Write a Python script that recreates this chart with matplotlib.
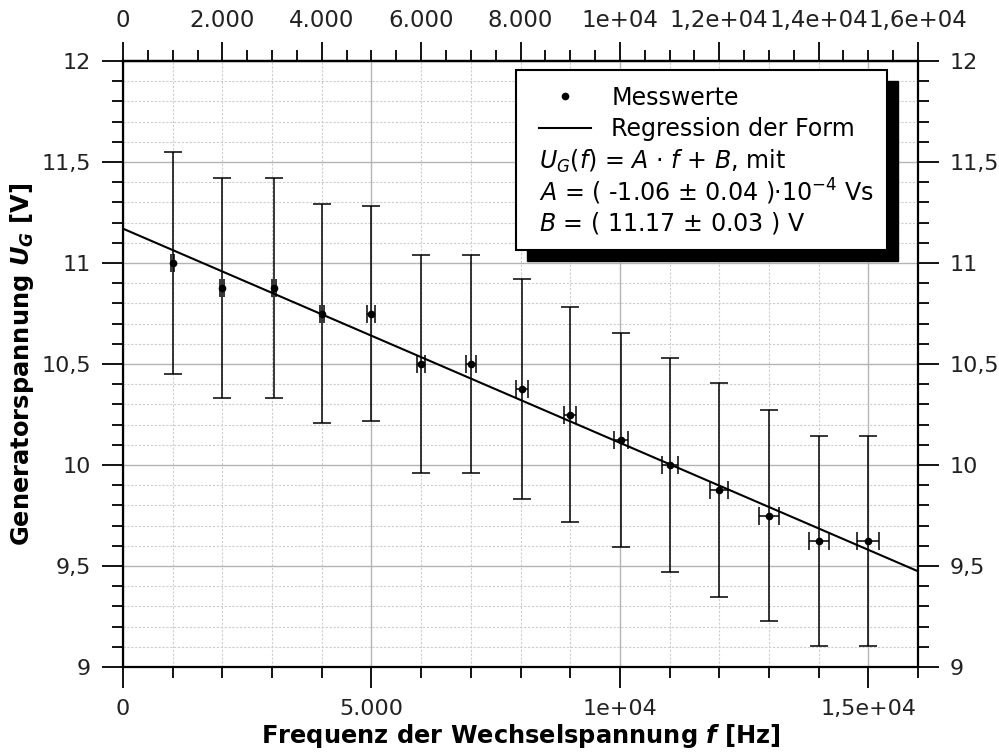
import matplotlib
matplotlib.use("Agg")
import matplotlib.pyplot as plt
import numpy as np
from matplotlib.ticker import MultipleLocator, FixedLocator, FixedFormatter
from matplotlib.lines import Line2D
from matplotlib.patches import Rectangle

# Messwerte
freq = [1000, 2000, 3040, 4000, 5000, 6000, 7000, 8030, 9000, 10030,
        11000, 12000, 13000, 14000, 15000]
freq_err = [35, 40, 40, 45, 80, 80, 95, 115, 115, 140, 160, 180, 200, 200, 225]
volt = [11.0, 10.875, 10.875, 10.75, 10.75, 10.5, 10.5, 10.375, 10.25, 10.125,
        10.0, 9.875, 9.75, 9.625, 9.625]
volt_err = [0.55, 0.545, 0.545, 0.54, 0.53, 0.54, 0.54, 0.545, 0.53, 0.53,
            0.53, 0.53, 0.52, 0.52, 0.52]

# Regression U = A*f + B
A = -1.06e-4
B = 11.17

bottom_ticks = [0, 5000, 10000, 15000]
bottom_labels = ["0", "5.000", "1e+04", "1,5e+04"]
top_ticks = [0, 2000, 4000, 6000, 8000, 10000, 12000, 14000, 16000]
top_labels = ["0", "2.000", "4.000", "6.000", "8.000", "1e+04",
              "1,2e+04", "1,4e+04", "1,6e+04"]
y_ticks = [9, 9.5, 10, 10.5, 11, 11.5, 12]
y_labels = ["9", "9,5", "10", "10,5", "11", "11,5", "12"]

plt.rcParams['font.family'] = 'DejaVu Sans'
tc = '#222222'

fig = plt.figure(figsize=(9.99, 7.52), dpi=100)
ax = fig.add_axes([123/999, 1 - 667/752, 795/999, 606/752])

ax.set_xlim(0, 16000)
ax.set_ylim(9, 12)

ax.errorbar(freq, volt, xerr=freq_err, yerr=volt_err, fmt='o', color='black',
            ms=4.5, elinewidth=1.1, capsize=6.3, capthick=1.1, zorder=3)
fx = np.array(ax.get_xlim())
ax.plot(fx, A * fx + B, color='black', lw=1.5, zorder=3)

ax.xaxis.set_major_locator(FixedLocator(bottom_ticks))
ax.xaxis.set_major_formatter(FixedFormatter(bottom_labels))
ax.xaxis.set_minor_locator(MultipleLocator(1000))
ax.yaxis.set_major_locator(FixedLocator(y_ticks))
ax.yaxis.set_major_formatter(FixedFormatter(y_labels))
ax.yaxis.set_minor_locator(MultipleLocator(0.1))

ax.grid(which='major', color='#b4b4b4', lw=1.0, ls='-')
ax.grid(which='minor', color='#cdcdcd', lw=0.8, ls=(0, (2, 1.5)))
ax.set_axisbelow(True)

for s in ax.spines.values():
    s.set_linewidth(1.6)

ax.tick_params(which='major', direction='out', length=15, width=1.3,
               labelsize=16, labelcolor=tc, top=False, right=True,
               labelright=True, pad=8)
ax.tick_params(which='minor', direction='out', length=8, width=1.3,
               top=False, right=True)

sec = ax.secondary_xaxis('top')
sec.xaxis.set_major_locator(FixedLocator(top_ticks))
sec.xaxis.set_major_formatter(FixedFormatter(top_labels))
sec.xaxis.set_minor_locator(MultipleLocator(500))
sec.tick_params(which='major', direction='out', length=14, width=1.3,
                labelsize=16.5, labelcolor=tc, pad=7)
sec.tick_params(which='minor', direction='out', length=8, width=1.3)
sec.spines['top'].set_linewidth(1.6)

ax.set_xlabel(r"Frequenz der Wechselspannung $\mathbfit{f}$ [Hz]",
              fontsize=17.4, fontweight='bold', labelpad=2)
ax.set_ylabel(r"Generatorspannung $\mathbfit{U_G}$ [V]",
              fontsize=17.4, fontweight='bold', labelpad=4)

# Legende mit Schatten
x0, y0, w, h = 0.4943, 0.6881, 0.4663, 0.297
ax.add_patch(Rectangle((x0 + 0.0138, y0 - 0.0182), w, h, transform=ax.transAxes,
                       facecolor='black', edgecolor='black', zorder=5))
ax.add_patch(Rectangle((x0, y0), w, h, transform=ax.transAxes,
                       facecolor='white', edgecolor='black', lw=1.5, zorder=6))

h_pts = Line2D([], [], ls='none', marker='o', ms=4.5, color='black')
h_line = Line2D([], [], color='black', lw=1.5)
leg = ax.legend([h_pts, h_line], ["Messwerte", "Regression der Form"],
                loc='center left', bbox_to_anchor=(0.5233, 0.9137),
                frameon=False, fontsize=17.1, borderpad=0, borderaxespad=0,
                handlelength=2.2, handletextpad=0.85, labelspacing=0.3)
leg.set_zorder(7)

lines = [r"$U_G(f)$ = $A$ $\cdot$ $f$ + $B$, mit",
         r"$A$ = ( -1.06 ± 0.04 )·10$^{\mathregular{-4}}$ Vs",
         r"$B$ = ( 11.17 ± 0.03 ) V"]
for txt, yy in zip(lines, [0.835, 0.7843, 0.7322]):
    ax.text(0.5233, yy, txt, transform=ax.transAxes, fontsize=17.1,
            va='center', ha='left', zorder=7)

fig.savefig("out.png", dpi=100)
